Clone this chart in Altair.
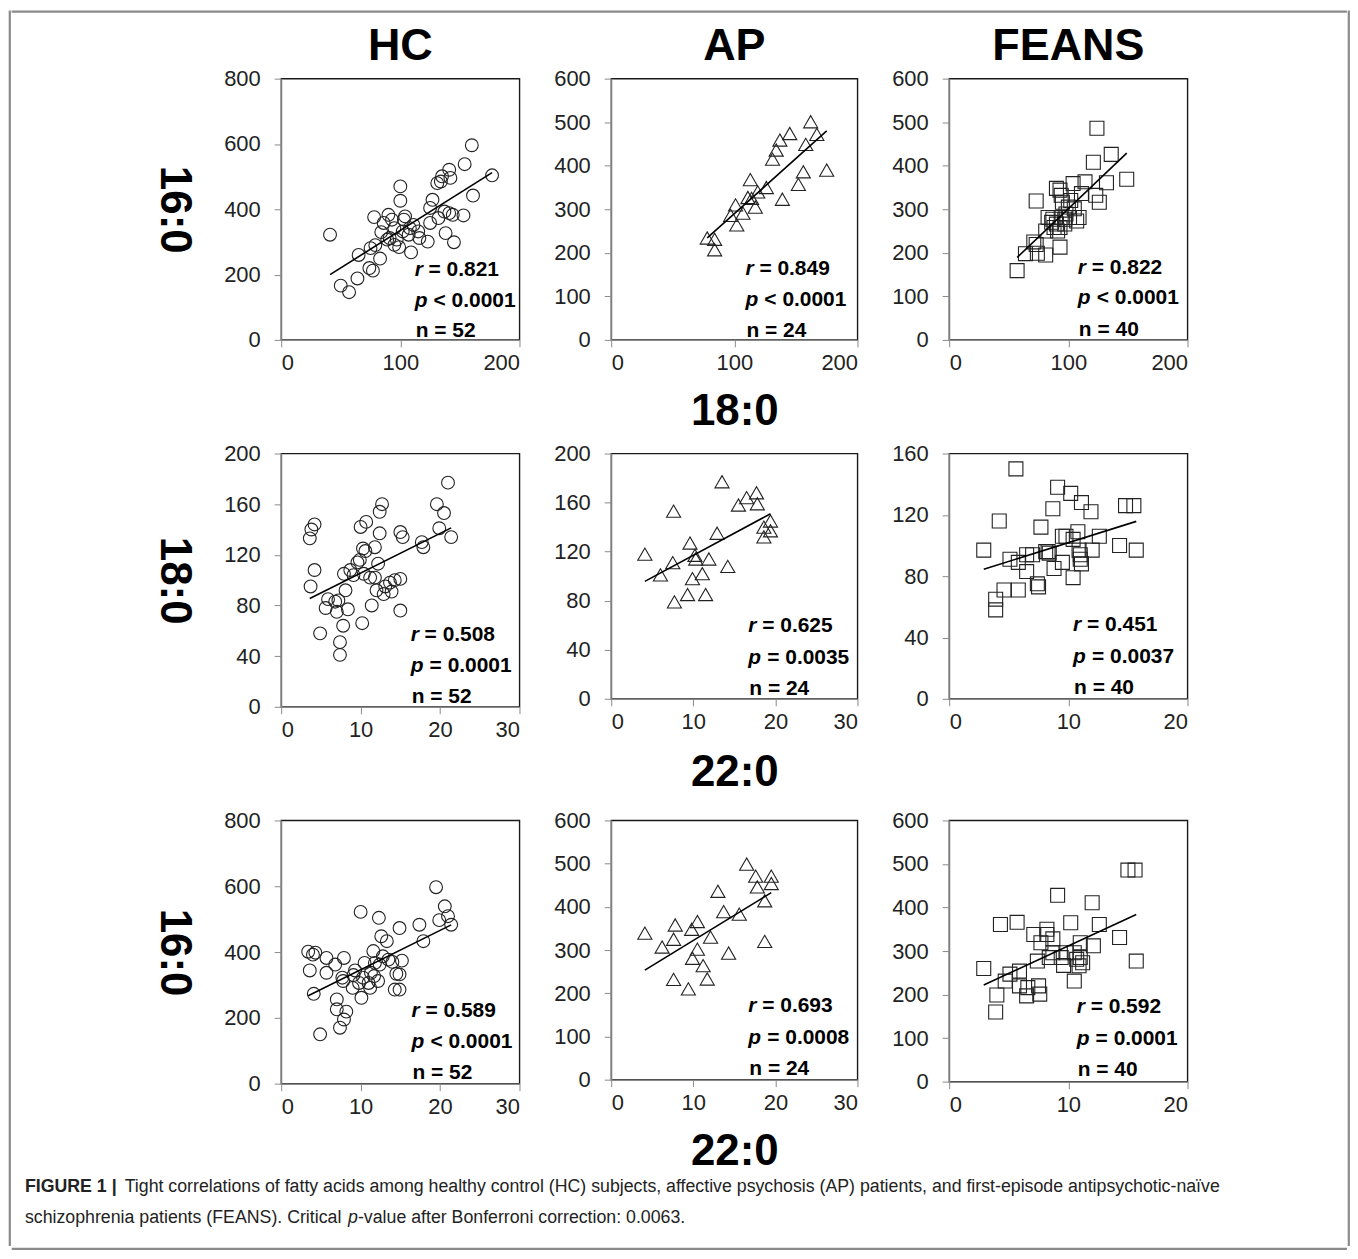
import altair as alt
import pandas as pd

FONT = "Liberation Sans"
INK = "#222222"

# ---------------- data ----------------
# Row 1: y = 16:0, x = 18:0
hc_a_x = [41, 50, 57, 64, 65, 74, 77, 75, 79, 83, 78, 84, 86, 90, 93, 95, 91, 97, 99, 100,
          100, 103, 104, 102, 107, 109, 111, 115, 116, 123, 125, 127, 125, 131, 134, 135, 141, 142, 132, 137,
          141, 144, 138, 145, 153, 154, 160, 161, 177, 95, 108, 89]
hc_a_y = [322, 166, 146, 188, 260, 220, 212, 281, 290, 249, 376, 330, 358, 383, 368, 342, 312, 307, 284, 470,
          426, 368, 378, 332, 322, 268, 352, 332, 312, 301, 358, 429, 404, 480, 485, 501, 521, 496, 373, 393,
          388, 383, 327, 299, 381, 538, 596, 442, 504, 291, 342, 307]
ap_a_x = [78, 84, 84, 97, 101, 102, 107, 111, 113, 114, 117, 119, 126, 131, 134, 137, 139, 145, 152, 156,
          158, 162, 167, 175]
ap_a_y = [234, 231, 207, 286, 310, 264, 291, 327, 368, 325, 305, 340, 350, 415, 436, 459, 323, 474, 357, 386,
          449, 501, 472, 390]
fe_a_x = [57, 64, 71, 73, 74, 81, 93, 73, 83, 86, 88, 91, 93, 94, 95, 97, 97, 98, 100, 94,
          104, 105, 107, 109, 111, 114, 121, 123, 126, 124, 132, 136, 149, 90, 87, 93, 101, 90, 102, 81]
fe_a_y = [159, 198, 225, 219, 199, 195, 213, 319, 281, 270, 258, 250, 344, 332, 316, 277, 266, 289, 305, 281,
          359, 301, 273, 281, 336, 363, 408, 332, 316, 486, 361, 426, 369, 266, 277, 258, 281, 348, 320, 250]

# Row 2: y = 18:0, x = 22:0
hc_b_x = [3.6, 3.8, 4.2, 3.7, 4.2, 4.9, 5.9, 5.6, 6.8, 7.2, 7.0, 7.4, 7.4, 7.8, 8.4, 7.9, 8.1, 8.7, 9.6, 9.9,
          10.0, 10.7, 10.3, 10.6, 10.2, 10.4, 11.4, 11.8, 12.4, 12.4, 12.7, 12.2, 11.8, 12.0, 13.1, 13.7, 13.9,
          14.3, 15.0, 15.0, 15.0, 15.3, 11.2, 17.7, 17.9, 19.6, 20.5, 19.9, 21.0, 21.4, 9.1, 12.9]
hc_b_y = [133, 140, 144, 95, 108, 58, 85, 78, 83, 84, 75, 51, 41, 64, 77, 105, 92, 108, 114, 116,
          142, 146, 125, 123, 66, 105, 80, 126, 137, 154, 160, 113, 102, 92, 95, 98, 91,
          100, 101, 76, 138, 134, 102, 130, 126, 160, 153, 141, 177, 134, 104, 89]
ap_b_x = [4.1, 6.0, 7.5, 7.6, 7.7, 9.3, 9.6, 9.9, 10.2, 10.3, 11.1, 11.5, 11.9, 12.9, 13.5, 14.2, 15.5, 16.5,
          17.7, 17.8, 18.6, 18.6, 19.4, 19.4]
ap_b_y = [118, 101, 111, 153, 79, 85, 127, 98, 117, 114, 102, 85, 114, 135, 177, 108, 158, 164,
          168, 159, 132, 140, 145, 137]
fe_b_x = [2.9, 3.9, 3.9, 4.2, 4.6, 5.1, 5.6, 5.8, 5.8, 6.5, 6.5, 7.0, 7.4, 7.5, 7.7, 8.1, 8.4, 8.7, 8.8, 9.1,
          9.5, 9.8, 10.2, 10.4, 10.4, 10.8, 10.9, 11.0, 11.0, 11.1, 11.9, 12.0, 12.6, 14.3, 14.8, 15.5, 15.7,
          9.5, 11.1, 8.3]
fe_b_y = [97, 58, 65, 116, 71, 91, 150, 71, 89, 94, 83, 94, 75, 73, 112, 96, 95, 124, 85, 138,
          89, 106, 134, 79, 104, 109, 97, 94, 91, 128, 122, 97, 106, 100, 126, 126, 97,
          106, 88, 96]

# Row 3: y = 16:0, x = 22:0
hc_c_x = [3.4, 3.6, 4.0, 4.3, 4.1, 4.9, 5.7, 5.7, 6.8, 7.0, 7.0, 7.4, 7.7, 7.9, 7.9, 8.2, 7.8, 9.0, 9.3, 9.8,
          10.0, 10.1, 10.3, 10.5, 11.0, 11.2, 11.3, 11.6, 11.7, 12.2, 12.3, 12.4, 12.6, 12.8, 13.3, 13.5, 14.0,
          14.3, 14.5, 14.9, 14.9, 14.9, 15.2, 17.4, 17.9, 19.5, 19.9, 20.6, 21.0, 21.4, 9.1, 11.8]
hc_c_y = [401, 344, 392, 398, 273, 150, 382, 337, 362, 256, 226, 170, 322, 382, 195, 219, 312, 291, 344, 306,
          522, 261, 322, 367, 306, 291, 337, 403, 327, 312, 504, 362, 448, 387, 433, 377, 370,
          286, 334, 286, 473, 332, 374, 483, 433, 597, 497, 539, 509, 483, 330, 367]
ap_c_x = [4.1, 6.2, 7.6, 7.6, 7.8, 9.4, 9.8, 9.9, 10.5, 10.5, 11.2, 11.7, 12.1, 13.0, 13.7, 14.3, 15.6, 16.5,
          17.6, 17.8, 18.7, 18.7, 19.5, 19.5]
ap_c_y = [339, 307, 232, 325, 358, 210, 348, 281, 302, 366, 264, 233, 330, 436, 389, 293, 383, 499,
          471, 446, 414, 320, 471, 454]
fe_c_x = [2.9, 3.9, 4.0, 4.3, 4.7, 5.1, 5.7, 5.9, 5.9, 6.5, 6.6, 7.1, 7.5, 7.6, 7.7, 8.2, 8.2, 8.7, 8.4, 8.7,
          9.1, 9.4, 9.6, 9.8, 10.2, 10.5, 10.5, 10.7, 10.9, 11.0, 11.0, 11.2, 12.0, 12.1, 12.6, 14.3, 15.0,
          15.6, 15.7, 7.4]
fe_c_y = [260, 160, 199, 361, 231, 247, 366, 254, 220, 197, 216, 338, 220, 201, 319, 350, 338, 328, 285, 296,
          428, 285, 267, 296, 365, 231, 296, 281, 266, 319, 285, 273, 411, 312, 361, 331, 486,
          486, 277, 277]

r_vals = ["0.821", "0.849", "0.822", "0.508", "0.625", "0.451", "0.589", "0.693", "0.592"]
p_vals = ["< 0.0001", "< 0.0001", "< 0.0001", "= 0.0001", "= 0.0035", "= 0.0037",
          "< 0.0001", "= 0.0008", "= 0.0001"]
n_vals = [52, 24, 40, 52, 24, 40, 52, 24, 40]

col_titles = ["HC", "AP", "FEANS"]
row_titles = ["16:0", "18:0", "16:0"]
x_titles = ["18:0", "22:0", "22:0"]
x_ticks = [[0, 100, 200], [0, 100, 200], [0, 100, 200],
           [0, 10, 20, 30], [0, 10, 20, 30], [0, 10, 20],
           [0, 10, 20, 30], [0, 10, 20, 30], [0, 10, 20]]
y_ticks = [[0, 200, 400, 600, 800], [0, 100, 200, 300, 400, 500, 600], [0, 100, 200, 300, 400, 500, 600],
           [0, 40, 80, 120, 160, 200], [0, 40, 80, 120, 160, 200], [0, 40, 80, 120, 160],
           [0, 200, 400, 600, 800], [0, 100, 200, 300, 400, 500, 600], [0, 100, 200, 300, 400, 500, 600]]

caption_bold = "FIGURE 1 |"
caption_l1 = ("Tight correlations of fatty acids among healthy control (HC) subjects, affective psychosis (AP) "
              "patients, and first-episode antipsychotic-naïve")
caption_l2a = "schizophrenia patients (FEANS). Critical"
caption_l2p = "p"
caption_l2b = "-value after Bonferroni correction: 0.0063."

series = [(hc_a_x, hc_a_y), (ap_a_x, ap_a_y), (fe_a_x, fe_a_y),
          (hc_b_x, hc_b_y), (ap_b_x, ap_b_y), (fe_b_x, fe_b_y),
          (hc_c_x, hc_c_y), (ap_c_x, ap_c_y), (fe_c_x, fe_c_y)]

# ---------------- layout / style ----------------
shapes = ["circle", "triangle-up", "square"]
sizes = [165, 200, 196]
col_w = [239, 247, 239]
row_h = [[262, 262, 262], [254, 246, 246], [264, 260, 262]]
x_title_pad = [16, 18, 16]
# annotation anchor (data coordinates inside each panel): x, y of line1, line2, line3
ann = [(112, 215, 120, 26), (109, 162, 91, 20), (108, 166, 96, 23),
       (16.3, 56.7, 32.3, 7.9), (16.7, 59.6, 33.5, 8.2), (10.4, 48.3, 27.4, 7.2),
       (16.4, 221, 127, 33), (16.7, 171, 97, 25), (10.7, 172, 98.5, 27.5)]


def panel(i):
    row, col = divmod(i, 3)
    xs, ys = series[i]
    df = pd.DataFrame({"x": xs, "y": ys})
    xt, yt = x_ticks[i], y_ticks[i]
    xkw = dict(values=xt)
    if col == 1:
        xkw.update(title=x_titles[row], titlePadding=x_title_pad[row])
    else:
        xkw.update(title=None)
    ykw = dict(values=yt)
    if col == 0:
        ykw.update(title=row_titles[row], titleAngle=90, titleBaseline="top", titlePadding=28)
    else:
        ykw.update(title=None)
    X = alt.X("x:Q", scale=alt.Scale(domain=[xt[0], xt[-1]], nice=False), axis=alt.Axis(**xkw))
    Y = alt.Y("y:Q", scale=alt.Scale(domain=[yt[0], yt[-1]], nice=False), axis=alt.Axis(**ykw))

    pts = alt.Chart(df).mark_point(
        shape=shapes[col], size=sizes[col], filled=False, color=INK, strokeWidth=1.1, opacity=1
    ).encode(x=X, y=Y)
    fit = alt.Chart(df).transform_regression("x", "y").mark_line(
        color="black", strokeWidth=1.6
    ).encode(x=X, y=Y)

    ax, y1, y2, y3 = ann[i]

    def txt(s, yy, italic=False, dx=0):
        d = pd.DataFrame({"x": [ax], "y": [yy], "t": [s]})
        return alt.Chart(d).mark_text(
            align="left", baseline="middle", dx=dx, font=FONT, fontSize=21, fontWeight="bold",
            fontStyle="italic" if italic else "normal", color="black"
        ).encode(x=X, y=Y, text="t:N")

    layers = [pts, fit,
              txt("r", y1, italic=True), txt("= " + r_vals[i], y1, dx=14),
              txt("p", y2, italic=True), txt(p_vals[i], y2, dx=19),
              txt("n = %d" % n_vals[i], y3, dx=1)]
    ch = alt.layer(*layers).properties(
        width=col_w[col], height=row_h[row][col],
        view=alt.ViewBackground(stroke="#1a1a1a", strokeWidth=1.4),
    )
    if row == 0:
        ch = ch.properties(title=alt.TitleParams(
            col_titles[col], font=FONT, fontSize=45, fontWeight="bold", color="black",
            offset=-1, anchor="middle", frame="group"))
    return ch


grid = alt.concat(*[panel(i) for i in range(9)], columns=3, bounds="flush",
                  spacing={"row": 114, "column": 92})

FW = 1338   # inner width of the framed figure
FH = 1238   # height of the side frame lines


def blank(w, h, stroke="transparent"):
    return alt.Chart(pd.DataFrame({"v": [0]})).mark_point(size=0, strokeWidth=0, opacity=0).encode(
        x=alt.value(0), y=alt.value(0)
    ).properties(width=w, height=h, view=alt.ViewBackground(stroke=stroke, strokeWidth=1.2))


def cap(s, x, y, weight="normal", style="normal"):
    return alt.Chart(pd.DataFrame({"t": [s]})).mark_text(
        align="left", baseline="middle", font=FONT, fontSize=17.8, fontWeight=weight,
        fontStyle=style, color="#222222"
    ).encode(text="t:N", x=alt.value(x), y=alt.value(y))


caption = alt.layer(
    cap(caption_bold, 13, 12, weight="bold"),
    cap(caption_l1, 113, 12),
    cap(caption_l2a, 13, 43),
    cap(caption_l2p, 337, 43, style="italic"),
    cap(caption_l2b, 347, 43),
).properties(width=FW, height=71, view=alt.ViewBackground(stroke="transparent"))

frame_line = "#8a8a8a"
grid_row = alt.hconcat(blank(138, 1), grid, spacing=0)
middle = alt.vconcat(blank(FW, 1, frame_line), blank(1, 8), grid_row, caption, blank(FW, 1, frame_line),
                     spacing=0)

chart = alt.hconcat(blank(1, FH, frame_line), middle, blank(1, FH, frame_line), spacing=0).properties(
    padding={"left": 0, "top": 0, "right": 0, "bottom": 0}
).configure(font=FONT).configure_axis(
    labelFont=FONT, labelFontSize=22, labelColor=INK, tickColor="#8a8a8a", tickSize=7,
    domainColor="#8a8a8a", domainWidth=1.2, grid=False,
    titleFont=FONT, titleFontSize=44, titleFontWeight="bold", titleColor="black",
).configure_axisX(labelPadding=6).configure_axisY(labelPadding=14)

chart.save("out.html", embed_options={"renderer": "svg", "actions": False})
